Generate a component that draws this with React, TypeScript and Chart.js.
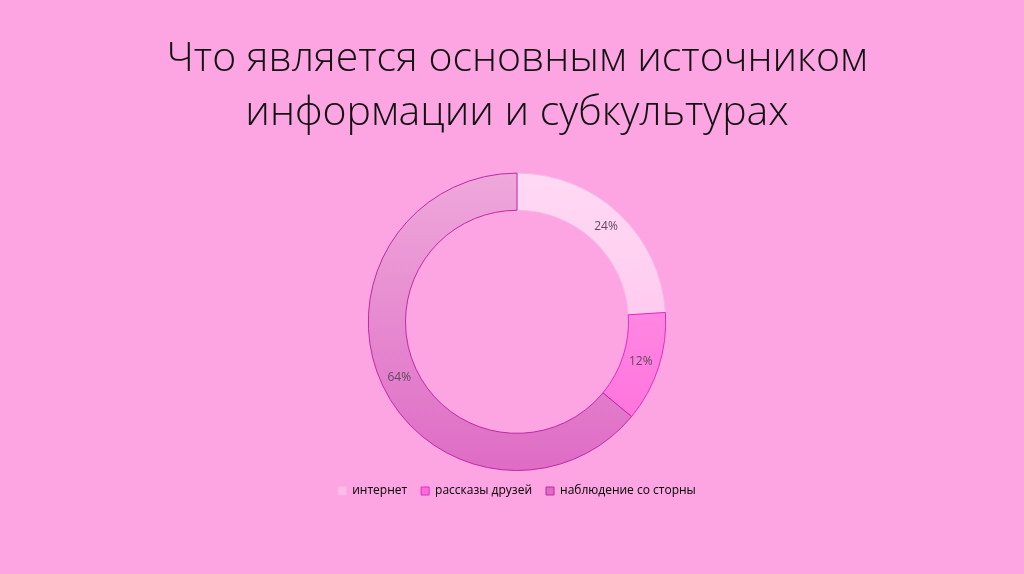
import React, { useEffect, useRef } from 'react';
import { Chart, registerables } from 'chart.js';

Chart.register(...registerables);

const titleLines = ['Что является основным источником', 'информации и субкультурах'];
const sources = ['интернет', 'рассказы друзей', 'наблюдение со сторны'];
const shares = [24, 12, 64];
const topColors = ['#FFD9F4', '#FF9FE9', '#EFA8DB'];
const bottomColors = ['#FFBCEB', '#FF6BDA', '#DE6CC5'];
const borderColors = ['#F7B6E6', '#E02CC3', '#BE2AA4'];

const percentLabels = {
  id: 'percentLabels',
  afterDatasetsDraw(chart) {
    const { ctx } = chart;
    const meta = chart.getDatasetMeta(0);
    ctx.save();
    ctx.font = '12px "Open Sans"';
    ctx.fillStyle = '#5E4A5C';
    ctx.textAlign = 'center';
    ctx.textBaseline = 'middle';
    meta.data.forEach((arc, i) => {
      const p = arc.tooltipPosition(false);
      ctx.fillText(shares[i] + '%', p.x, p.y);
    });
    ctx.restore();
  },
};

const App = () => {
  const canvasRef = useRef(null);

  useEffect(() => {
    const ctx = canvasRef.current.getContext('2d');

    const gradientFill = (context) => {
      const i = context.dataIndex;
      const area = context.chart.chartArea;
      if (!area) return topColors[i];
      const g = context.chart.ctx.createLinearGradient(0, area.top, 0, area.bottom);
      g.addColorStop(0, topColors[i]);
      g.addColorStop(1, bottomColors[i]);
      return g;
    };

    const chart = new Chart(ctx, {
      type: 'doughnut',
      data: {
        labels: sources,
        datasets: [
          {
            data: shares,
            backgroundColor: gradientFill,
            borderColor: borderColors,
            borderWidth: 1,
          },
        ],
      },
      options: {
        animation: false,
        responsive: false,
        cutout: '75%',
        layout: {
          padding: { top: 33, bottom: 67, left: 10, right: 0 },
        },
        plugins: {
          tooltip: { enabled: false },
          title: {
            display: true,
            text: titleLines,
            color: '#111111',
            font: { family: '"Open Sans"', size: 41, weight: '300', lineHeight: 1.3 },
            padding: { top: 0, bottom: 33 },
          },
          legend: {
            display: true,
            position: 'bottom',
            labels: {
              color: '#857383',
              font: { family: '"Open Sans"', size: 12 },
              boxWidth: 8,
              boxHeight: 8,
              padding: 14,
              generateLabels: () =>
                sources.map((s, i) => ({
                  text: s,
                  fillStyle: bottomColors[i],
                  strokeStyle: borderColors[i],
                  lineWidth: 1,
                  index: i,
                  hidden: false,
                })),
            },
          },
        },
      },
      plugins: [percentLabels],
    });

    return () => chart.destroy();
  }, []);

  return (
    <div style={{ position: 'fixed', left: 0, top: 0, width: 1024, height: 574, background: '#FCA5E2' }}>
      <canvas ref={canvasRef} width="1024" height="574" />
    </div>
  );
};

export default App;
